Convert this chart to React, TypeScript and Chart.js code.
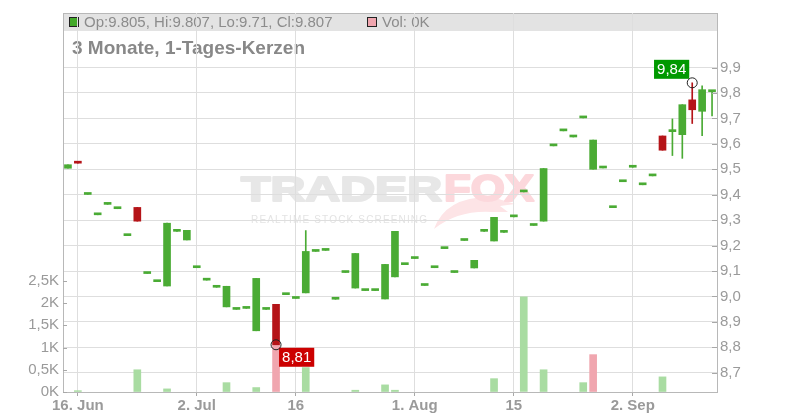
import React, { useEffect, useRef } from "react";
import { Chart, registerables } from "chart.js";
Chart.register(...registerables);

const FONT = "'Liberation Sans', Arial, Helvetica, sans-serif";

const dates = [
  "2025-06-13", "2025-06-16", "2025-06-17", "2025-06-18", "2025-06-19", "2025-06-20",
  "2025-06-23", "2025-06-24", "2025-06-25", "2025-06-26", "2025-06-27", "2025-06-30",
  "2025-07-01", "2025-07-02", "2025-07-03", "2025-07-04", "2025-07-07", "2025-07-08",
  "2025-07-09", "2025-07-10", "2025-07-11", "2025-07-14", "2025-07-15", "2025-07-16",
  "2025-07-17", "2025-07-18", "2025-07-21", "2025-07-22", "2025-07-23", "2025-07-24",
  "2025-07-25", "2025-07-28", "2025-07-29", "2025-07-30", "2025-07-31", "2025-08-01",
  "2025-08-04", "2025-08-05", "2025-08-06", "2025-08-07", "2025-08-08", "2025-08-11",
  "2025-08-12", "2025-08-13", "2025-08-14", "2025-08-15", "2025-08-18", "2025-08-19",
  "2025-08-20", "2025-08-21", "2025-08-22", "2025-08-25", "2025-08-26", "2025-08-27",
  "2025-08-28", "2025-08-29", "2025-09-01", "2025-09-02", "2025-09-03", "2025-09-04",
  "2025-09-05", "2025-09-08", "2025-09-09", "2025-09-10", "2025-09-11", "2025-09-12",
];

const opens = [
  9.504, 9.530, 9.401, 9.321, 9.362, 9.345, 9.239, 9.350, 9.090, 9.058,
  9.041, 9.256, 9.222, 9.113, 9.064, 9.036, 8.959, 8.949, 8.953, 8.865,
  8.949, 8.969, 9.007, 8.992, 9.014, 9.177, 9.181, 8.989, 9.094, 9.033,
  9.023, 9.023, 8.990, 9.077, 9.125, 9.149, 9.043, 9.113, 9.188, 9.094,
  9.220, 9.112, 9.256, 9.218, 9.252, 9.313, 9.411, 9.279, 9.296, 9.592,
  9.651, 9.627, 9.702, 9.500, 9.505, 9.349, 9.451, 9.508, 9.439, 9.474,
  9.631, 9.648, 9.636, 9.773, 9.728, 9.805,
];

const closes = [
  9.518, 9.524, 9.401, 9.321, 9.362, 9.345, 9.239, 9.296, 9.090, 9.058,
  9.288, 9.256, 9.260, 9.113, 9.064, 9.036, 9.040, 8.949, 8.953, 9.071,
  8.949, 8.810, 9.007, 8.992, 9.177, 9.177, 9.181, 8.989, 9.094, 9.169,
  9.023, 9.023, 9.126, 9.256, 9.125, 9.149, 9.043, 9.113, 9.188, 9.094,
  9.220, 9.142, 9.256, 9.311, 9.252, 9.313, 9.411, 9.279, 9.503, 9.592,
  9.651, 9.627, 9.702, 9.615, 9.505, 9.349, 9.451, 9.508, 9.439, 9.474,
  9.575, 9.648, 9.754, 9.734, 9.813, 9.807,
];

const highs = [
  9.518, 9.530, 9.401, 9.321, 9.362, 9.345, 9.239, 9.350, 9.090, 9.058,
  9.288, 9.256, 9.260, 9.113, 9.064, 9.036, 9.040, 8.949, 8.953, 9.071,
  8.949, 8.969, 9.007, 8.992, 9.259, 9.177, 9.181, 8.989, 9.094, 9.169,
  9.023, 9.023, 9.126, 9.256, 9.125, 9.149, 9.043, 9.113, 9.188, 9.094,
  9.220, 9.142, 9.256, 9.311, 9.252, 9.313, 9.411, 9.279, 9.503, 9.592,
  9.651, 9.627, 9.702, 9.615, 9.505, 9.349, 9.451, 9.508, 9.439, 9.474,
  9.631, 9.698, 9.754, 9.840, 9.828, 9.807,
];

const lows = [
  9.504, 9.524, 9.401, 9.321, 9.362, 9.345, 9.239, 9.296, 9.090, 9.058,
  9.041, 9.256, 9.222, 9.113, 9.064, 9.036, 8.959, 8.949, 8.953, 8.865,
  8.949, 8.810, 9.007, 8.992, 9.014, 9.177, 9.181, 8.989, 9.094, 9.033,
  9.023, 9.023, 8.990, 9.077, 9.125, 9.149, 9.043, 9.113, 9.188, 9.094,
  9.220, 9.112, 9.256, 9.218, 9.252, 9.313, 9.411, 9.279, 9.296, 9.592,
  9.651, 9.627, 9.702, 9.500, 9.505, 9.349, 9.451, 9.508, 9.439, 9.474,
  9.575, 9.554, 9.543, 9.680, 9.632, 9.710,
];

const volumes = [
  0, 30, 0, 0, 0, 0, 0, 500, 0, 0,
  70, 0, 0, 0, 0, 0, 210, 0, 0, 100,
  0, 1050, 0, 0, 550, 0, 0, 0, 0, 40,
  0, 0, 160, 40, 0, 0, 0, 0, 0, 0,
  0, 0, 0, 300, 0, 0, 2140, 0, 500, 0,
  0, 0, 210, 840, 0, 0, 0, 0, 0, 0,
  340, 0, 0, 0, 0, 0,
];

const xTickDates = ["2025-06-16", "2025-07-02", "2025-07-16", "2025-08-01", "2025-08-15", "2025-09-02"];
const xTickLabels = ["16. Jun", "2. Jul", "16", "1. Aug", "15", "2. Sep"];
const priceTicks = [8.7, 8.8, 8.9, 9.0, 9.1, 9.2, 9.3, 9.4, 9.5, 9.6, 9.7, 9.8, 9.9];
const volumeTicks = [0, 500, 1000, 1500, 2000, 2500];
const chartTitle = "3 Monate, 1-Tages-Kerzen";

const GREEN = "#4aab34";
const RED = "#b51418";
const VOL_GREEN = "#a9dca2";
const VOL_RED = "#f0a6af";
const GRID = "#dedede";
const AXIS = "#b8b8b8";
const TICK_TEXT = "#9a9a9a";

const PRICE_MIN = 8.6243;
const PRICE_MAX = 10.1145;
const VOL_MAX = 8520;

const fmtComma = (v: number, d: number) => v.toFixed(d).replace(".", ",");

const overlayPlugin = {
  id: "overlay",
  beforeDraw(chart: any) {
    const { ctx, chartArea: ca } = chart;
    ctx.save();
    ctx.fillStyle = "#e3e3e3";
    ctx.fillRect(ca.left, ca.top, ca.right - ca.left, 18);
    ctx.strokeStyle = AXIS;
    ctx.lineWidth = 1;
    ctx.beginPath();
    ctx.moveTo(ca.left, ca.top + 0.5);
    ctx.lineTo(ca.right, ca.top + 0.5);
    ctx.stroke();

    const n = dates.length - 1;
    const upLast = closes[n] >= opens[n];
    ctx.fillStyle = upLast ? "#44aa2a" : RED;
    ctx.fillRect(69, 17, 10, 10);
    ctx.strokeStyle = "#222";
    ctx.strokeRect(69.5, 17.5, 9, 9);
    ctx.font = `15px ${FONT}`;
    ctx.fillStyle = "#8c8c8c";
    ctx.textBaseline = "alphabetic";
    ctx.textAlign = "left";
    const ohlc = `Op:${opens[n]}, Hi:${highs[n]}, Lo:${lows[n]}, Cl:${closes[n]}`;
    ctx.fillText(ohlc, 84, 27);
    ctx.fillStyle = VOL_RED;
    ctx.fillRect(367, 17, 10, 10);
    ctx.strokeStyle = "#222";
    ctx.strokeRect(367.5, 17.5, 9, 9);
    ctx.fillStyle = "#8c8c8c";
    ctx.fillText(`Vol: ${volumes[n] / 1000}K`, 382, 27);

    ctx.font = `bold 19px ${FONT}`;
    ctx.fillStyle = "#888888";
    ctx.fillText(chartTitle, 72, 54);

    // watermark (logo)
    const drawFit = (text: string, x: number, base: number, w: number, font: string, color: string) => {
      ctx.font = font;
      const m = ctx.measureText(text).width;
      ctx.save();
      ctx.translate(x, base);
      ctx.scale(w / m, 1);
      ctx.fillStyle = color;
      ctx.strokeStyle = color;
      ctx.lineWidth = 2;
      ctx.lineJoin = "round";
      ctx.fillText(text, 0, 0);
      ctx.strokeText(text, 0, 0);
      ctx.restore();
    };
    // fox tail
    ctx.fillStyle = "#fde4e6";
    ctx.beginPath();
    ctx.moveTo(434, 229);
    ctx.quadraticCurveTo(446, 196, 492, 197);
    ctx.lineTo(515, 204);
    ctx.lineTo(500, 206);
    ctx.lineTo(508, 212);
    ctx.lineTo(492, 212);
    ctx.quadraticCurveTo(458, 210, 434, 229);
    ctx.closePath();
    ctx.fill();
    drawFit("TRADER", 241, 201, 201, `bold 35px ${FONT}`, "#e7e7e7");
    drawFit("FOX", 444, 201, 90, `bold 36px ${FONT}`, "#fcd8dc");
    const sub = "REALTIME STOCK SCREENING";
    ctx.font = `10px ${FONT}`;
    ctx.fillStyle = "#e3e3e3";
    const widths = sub.split("").map((c) => ctx.measureText(c).width);
    const total = widths.reduce((a, b) => a + b, 0);
    const gap = (176 - total) / (sub.length - 1);
    let cx = 251;
    sub.split("").forEach((c, i) => {
      ctx.fillText(c, cx, 223);
      cx += widths[i] + gap;
    });
    ctx.restore();
  },
  afterDraw(chart: any) {
    const { ctx, chartArea: ca, scales } = chart;
    ctx.save();
    ctx.strokeStyle = "#a8a8a8";
    ctx.lineWidth = 1;
    priceTicks.forEach((v) => {
      const y = Math.round(scales.y.getPixelForValue(v)) + 0.5;
      ctx.beginPath();
      ctx.moveTo(ca.right - 5, y);
      ctx.lineTo(ca.right, y);
      ctx.stroke();
    });
    volumeTicks.forEach((v) => {
      const y = Math.round(scales.yVol.getPixelForValue(v)) + 0.5;
      ctx.beginPath();
      ctx.moveTo(ca.left, y);
      ctx.lineTo(ca.left + 4, y);
      ctx.stroke();
    });

    let hi = 0;
    let lo = 0;
    highs.forEach((v, i) => { if (v > highs[hi]) hi = i; });
    lows.forEach((v, i) => { if (v < lows[lo]) lo = i; });

    ctx.font = `15px ${FONT}`;
    ctx.textBaseline = "middle";
    ctx.textAlign = "center";
    const boxH = 19;

    const hx = scales.x.getPixelForValue(hi);
    const hy = scales.y.getPixelForValue(highs[hi]);
    const ht = fmtComma(highs[hi], 2);
    const hw = ctx.measureText(ht).width + 6;
    ctx.fillStyle = "#009900";
    ctx.fillRect(hx - 3 - hw, hy - 4 - boxH, hw, boxH);
    ctx.fillStyle = "#ffffff";
    ctx.fillText(ht, hx - 3 - hw / 2, hy - 4 - boxH / 2 + 1);
    ctx.strokeStyle = "#222";
    ctx.beginPath();
    ctx.arc(hx, hy, 5, 0, Math.PI * 2);
    ctx.stroke();

    const lx = scales.x.getPixelForValue(lo);
    const ly = scales.y.getPixelForValue(lows[lo]);
    const lt = fmtComma(lows[lo], 2);
    const lw = ctx.measureText(lt).width + 6;
    ctx.fillStyle = "#cc0000";
    ctx.fillRect(lx + 3, ly + 3, lw, boxH);
    ctx.fillStyle = "#ffffff";
    ctx.fillText(lt, lx + 3 + lw / 2, ly + 3 + boxH / 2 + 1);
    ctx.strokeStyle = "#222";
    ctx.beginPath();
    ctx.arc(lx, ly, 5, 0, Math.PI * 2);
    ctx.stroke();
    ctx.restore();
  },
};

export default function App() {
  const ref = useRef<HTMLCanvasElement | null>(null);

  useEffect(() => {
    if (!ref.current) return;
    Chart.defaults.font.family = FONT;
    const candleColor = dates.map((_, i) => (closes[i] >= opens[i] ? GREEN : RED));
    const volColor = dates.map((_, i) =>
      i === 0 || closes[i] >= closes[i - 1] ? VOL_GREEN : VOL_RED
    );
    const tickIndex = xTickDates.map((d) => dates.indexOf(d));

    const chart = new Chart(ref.current, {
      type: "bar",
      data: {
        datasets: [
          {
            label: "Kerzen",
            data: dates.map((_, i) => ({ x: i, y: [opens[i], closes[i]] })) as any,
            backgroundColor: candleColor,
            barThickness: 7,
            minBarLength: 2,
            grouped: false,
            order: 0,
            xAxisID: "x",
            yAxisID: "y",
          } as any,
          {
            label: "Dochte",
            data: dates.map((_, i) => ({ x: i, y: [lows[i], highs[i]] })) as any,
            backgroundColor: candleColor,
            barThickness: 1,
            grouped: false,
            order: 1,
            xAxisID: "x",
            yAxisID: "y",
          } as any,
          {
            label: "Vol",
            data: dates.map((_, i) => ({ x: i, y: volumes[i] > 0 ? volumes[i] : null })) as any,
            backgroundColor: volColor,
            barThickness: 7,
            grouped: false,
            order: 2,
            xAxisID: "x",
            yAxisID: "yVol",
          } as any,
        ],
      },
      options: {
        animation: false,
        responsive: false,
        maintainAspectRatio: false,
        layout: { padding: { top: 12, left: 0, right: 0, bottom: 0 } },
        plugins: { legend: { display: false }, tooltip: { enabled: false } },
        scales: {
          x: {
            type: "linear",
            offset: false,
            min: -0.5,
            max: dates.length - 0.5,
            afterBuildTicks: (s: any) => {
              s.ticks = tickIndex.map((v) => ({ value: v }));
            },
            afterFit: (s: any) => {
              s.height = 28;
            },
            ticks: {
              autoSkip: false,
              maxRotation: 0,
              padding: 1,
              color: TICK_TEXT,
              font: { size: 15, weight: "bold", family: FONT },
              callback: (v: any) => {
                const k = tickIndex.indexOf(Number(v));
                return k >= 0 ? xTickLabels[k] : "";
              },
            },
            grid: { color: GRID, offset: false, tickLength: 4, tickColor: "#a8a8a8" },
            border: { color: AXIS },
          },
          y: {
            type: "linear",
            position: "right",
            min: PRICE_MIN,
            max: PRICE_MAX,
            afterBuildTicks: (s: any) => {
              s.ticks = priceTicks.map((v) => ({ value: v }));
            },
            afterFit: (s: any) => {
              s.width = 83;
            },
            ticks: {
              padding: 3,
              color: TICK_TEXT,
              font: { size: 15, family: FONT },
              callback: (v: any) => fmtComma(Number(v), 1),
            },
            grid: { color: GRID, drawTicks: false },
            border: { color: AXIS },
          },
          yVol: {
            type: "linear",
            position: "left",
            min: 0,
            max: VOL_MAX,
            afterBuildTicks: (s: any) => {
              s.ticks = volumeTicks.map((v) => ({ value: v }));
            },
            afterFit: (s: any) => {
              s.width = 63;
            },
            ticks: {
              padding: 4,
              color: TICK_TEXT,
              font: { size: 15, family: FONT },
              callback: (v: any) => String(Number(v) / 1000).replace(".", ",") + "K",
            },
            grid: { drawOnChartArea: false, drawTicks: false },
            border: { color: AXIS },
          },
        },
      } as any,
      plugins: [overlayPlugin],
    });
    return () => chart.destroy();
  }, []);

  return (
    <div style={{ position: "absolute", left: 0, top: 0, width: 800, height: 420, background: "#fff" }}>
      <canvas ref={ref} width={800} height={420} style={{ display: "block" }} />
    </div>
  );
}
